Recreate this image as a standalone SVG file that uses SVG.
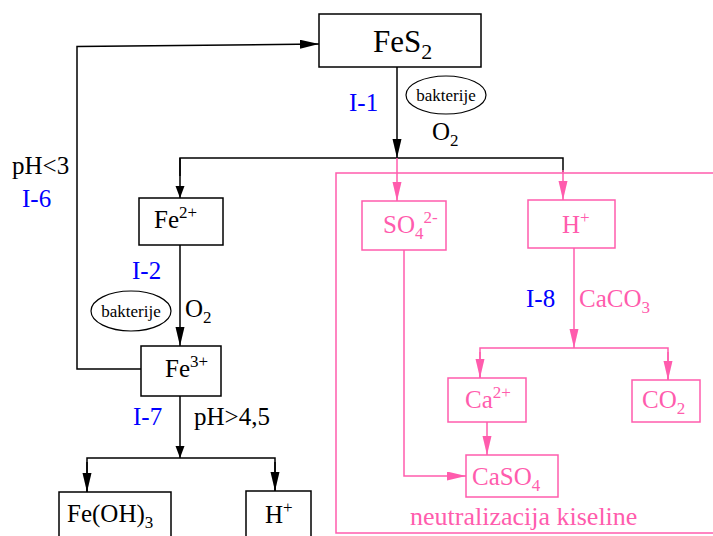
<svg xmlns="http://www.w3.org/2000/svg" width="713" height="536" viewBox="0 0 713 536" font-family="Liberation Serif, Times New Roman, serif">
<defs>
<marker id="ak" markerUnits="userSpaceOnUse" markerWidth="20" markerHeight="10" refX="19" refY="4.5" orient="auto"><path d="M0,0 L19,4.5 L0,9 z" fill="#000"/></marker>
<marker id="as" markerUnits="userSpaceOnUse" markerWidth="14" markerHeight="10" refX="12" refY="4.5" orient="auto"><path d="M0,0 L12,4.5 L0,9 z" fill="#000"/></marker>
<marker id="ap" markerUnits="userSpaceOnUse" markerWidth="20" markerHeight="10" refX="19" refY="4.5" orient="auto"><path d="M0,0 L19,4.5 L0,9 z" fill="#FF5CAD"/></marker>
</defs>
<rect x="336" y="173" width="390" height="360" fill="none" stroke="#FF5CAD" stroke-width="1.5"/>
<g id="connectors" fill="none" stroke-width="1.5">
<g stroke="#000">
<path d="M397,67 V158" marker-end="url(#ak)"/>
<path d="M180,176 V158 H563 V172"/>
<path d="M180,158 V198" marker-end="url(#as)"/>
<path d="M180,245 V346" marker-end="url(#ak)"/>
<path d="M141,369 H77 V46.5 L319,44" marker-end="url(#ak)"/>
<path d="M180,396 V458" marker-end="url(#as)"/>
<path d="M87,492 V458 H275 V491"/>
<path d="M87,462 V492" marker-end="url(#ak)"/>
<path d="M275,462 V491" marker-end="url(#ak)"/>
</g>
<g stroke="#FF5CAD">
<path d="M397,158 V201" marker-end="url(#ap)"/>
<path d="M563,170 V200" marker-end="url(#ap)"/>
<path d="M574,248 V348" marker-end="url(#ap)"/>
<path d="M480,378 V348 H668 V380"/>
<path d="M480,352 V378" marker-end="url(#ap)"/>
<path d="M668,352 V380" marker-end="url(#ap)"/>
<path d="M404,250 V476 H466" marker-end="url(#ap)"/>
<path d="M487,422 V455" marker-end="url(#ap)"/>
</g>
</g>
<g id="FeS2" font-family="Liberation Serif, Times New Roman, serif"><rect x="319" y="14" width="162" height="53" fill="#fff" stroke="#000" stroke-width="1.5"/><text x="373" y="52" font-family="Liberation Serif, Times New Roman, serif" font-size="31" fill="#000">FeS<tspan dy="7" font-size="22">2</tspan></text></g>
<g id="Fe2" font-family="Liberation Serif, Times New Roman, serif"><rect x="139" y="198" width="84" height="47" fill="#fff" stroke="#000" stroke-width="1.5"/><text x="154" y="228" font-family="Liberation Serif, Times New Roman, serif" font-size="25" fill="#000">Fe<tspan dy="-10" font-size="17">2+</tspan></text></g>
<g id="Fe3" font-family="Liberation Serif, Times New Roman, serif"><rect x="141" y="346" width="80" height="50" fill="#fff" stroke="#000" stroke-width="1.5"/><text x="165" y="377" font-family="Liberation Serif, Times New Roman, serif" font-size="25" fill="#000">Fe<tspan dy="-10" font-size="17">3+</tspan></text></g>
<g id="FeOH3" font-family="Liberation Serif, Times New Roman, serif"><rect x="59" y="492" width="112" height="60" fill="#fff" stroke="#000" stroke-width="1.5"/><text x="67" y="522" font-family="Liberation Serif, Times New Roman, serif" font-size="25" fill="#000">Fe(OH)<tspan dy="6" font-size="17">3</tspan></text></g>
<g id="Hblack" font-family="Liberation Serif, Times New Roman, serif"><rect x="246" y="491" width="65" height="60" fill="#fff" stroke="#000" stroke-width="1.5"/><text x="265" y="523" font-family="Liberation Serif, Times New Roman, serif" font-size="25" fill="#000">H<tspan dy="-10" font-size="17">+</tspan></text></g>
<g id="SO4" font-family="Liberation Serif, Times New Roman, serif"><rect x="362" y="201" width="84" height="49" fill="#fff" stroke="#FF5CAD" stroke-width="1.5"/><text x="383" y="233" font-family="Liberation Serif, Times New Roman, serif" font-size="25" fill="#FF5CAD">SO<tspan dy="6" font-size="17">4</tspan><tspan dy="-16" font-size="17">2-</tspan></text></g>
<g id="Hpink" font-family="Liberation Serif, Times New Roman, serif"><rect x="528" y="200" width="87" height="48" fill="#fff" stroke="#FF5CAD" stroke-width="1.5"/><text x="562" y="233" font-family="Liberation Serif, Times New Roman, serif" font-size="25" fill="#FF5CAD">H<tspan dy="-10" font-size="17">+</tspan></text></g>
<g id="Ca" font-family="Liberation Serif, Times New Roman, serif"><rect x="448" y="378" width="78" height="44" fill="#fff" stroke="#FF5CAD" stroke-width="1.5"/><text x="465" y="408" font-family="Liberation Serif, Times New Roman, serif" font-size="25" fill="#FF5CAD">Ca<tspan dy="-10" font-size="17">2+</tspan></text></g>
<g id="CO2" font-family="Liberation Serif, Times New Roman, serif"><rect x="632" y="380" width="68" height="42" fill="#fff" stroke="#FF5CAD" stroke-width="1.5"/><text x="642" y="408" font-family="Liberation Serif, Times New Roman, serif" font-size="25" fill="#FF5CAD">CO<tspan dy="6" font-size="17">2</tspan></text></g>
<g id="CaSO4" font-family="Liberation Serif, Times New Roman, serif"><rect x="466" y="455" width="92" height="42" fill="#fff" stroke="#FF5CAD" stroke-width="1.5"/><text x="472" y="485" font-family="Liberation Serif, Times New Roman, serif" font-size="25" fill="#FF5CAD">CaSO<tspan dy="6" font-size="17">4</tspan></text></g>
<g id="bakt1" font-family="Liberation Serif, Times New Roman, serif"><ellipse cx="446" cy="95" rx="40" ry="19" fill="#fff" stroke="#000" stroke-width="1.2"/><text x="446" y="101" text-anchor="middle" font-family="Liberation Serif, Times New Roman, serif" font-size="17" fill="#000">bakterije</text></g>
<g id="bakt2" font-family="Liberation Serif, Times New Roman, serif"><ellipse cx="131" cy="311" rx="40" ry="20" fill="#fff" stroke="#000" stroke-width="1.2"/><text x="131" y="317" text-anchor="middle" font-family="Liberation Serif, Times New Roman, serif" font-size="17" fill="#000">bakterije</text></g>
<g id="labels" font-family="Liberation Serif, Times New Roman, serif">
<text x="349" y="111" font-family="Liberation Serif, Times New Roman, serif" font-size="25" fill="#0000FF">I-1</text>
<text x="432" y="140" font-family="Liberation Serif, Times New Roman, serif" font-size="25" fill="#000">O<tspan dy="6" font-size="17">2</tspan></text>
<text x="12" y="174" font-family="Liberation Serif, Times New Roman, serif" font-size="25" fill="#000">pH&lt;3</text>
<text x="22" y="207" font-family="Liberation Serif, Times New Roman, serif" font-size="25" fill="#0000FF">I-6</text>
<text x="132" y="279" font-family="Liberation Serif, Times New Roman, serif" font-size="25" fill="#0000FF">I-2</text>
<text x="185" y="317" font-family="Liberation Serif, Times New Roman, serif" font-size="25" fill="#000">O<tspan dy="6" font-size="17">2</tspan></text>
<text x="133" y="425" font-family="Liberation Serif, Times New Roman, serif" font-size="25" fill="#0000FF">I-7</text>
<text x="194" y="425" font-family="Liberation Serif, Times New Roman, serif" font-size="25" fill="#000">pH&gt;4,5</text>
<text x="526" y="307" font-family="Liberation Serif, Times New Roman, serif" font-size="25" fill="#0000FF">I-8</text>
<text x="579" y="307" font-family="Liberation Serif, Times New Roman, serif" font-size="25" fill="#FF5CAD">CaCO<tspan dy="6" font-size="17">3</tspan></text>
<text x="410" y="525" font-family="Liberation Serif, Times New Roman, serif" font-size="26" fill="#FF5CAD">neutralizacija kiseline</text>
</g>
</svg>
